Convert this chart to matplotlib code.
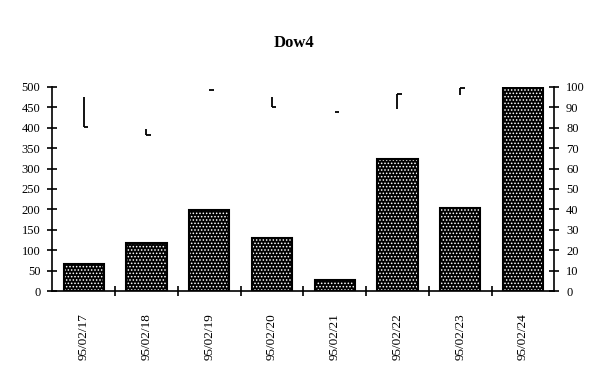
import numpy as np
import matplotlib
matplotlib.use("Agg")
import matplotlib.pyplot as plt

dates = ["95/02/17", "95/02/18", "95/02/19", "95/02/20",
         "95/02/21", "95/02/22", "95/02/23", "95/02/24"]
volume = [66, 118, 199, 130, 27, 324, 203, 500]
high = [95.2, 79.3, 98.3, 95.0, 87.6, 96.6, 99.4, np.nan]
low = [80.2, 76.5, 98.3, 90.3, 87.6, 89.4, 96.1, np.nan]
close = [80.2, 76.5, 98.3, 90.3, 87.6, 96.6, 99.4, np.nan]

plt.rcParams['font.family'] = ['Liberation Serif', 'DejaVu Serif']
plt.rcParams['hatch.linewidth'] = 0.7

fig = plt.figure(figsize=(6.06, 3.73), dpi=100)
ax = fig.add_axes([0.0863, 0.2198, 0.8284, 0.547])
x = np.arange(len(dates))

# volume bars: black with white dot pattern, black outline
ax.bar(x, volume, width=0.64, color='black', edgecolor='white', hatch='.....',
       linewidth=0, zorder=2)
ax.bar(x, volume, width=0.64, fill=False, edgecolor='black', linewidth=1.5, zorder=3)
ax.set_ylim(0, 500)
ax.set_xlim(-0.5, len(dates) - 0.5)
ax.set_yticks(range(0, 501, 50))

ax.set_xticks(x)
ax.set_xticklabels(dates, rotation=90, fontsize=9.5)
ax.set_xticks(np.arange(0.5, len(dates) - 0.5, 1), minor=True)
ax.tick_params(axis='x', which='major', length=0, pad=16)
ax.tick_params(axis='x', which='minor', direction='inout', length=7, width=1.2)
ax.tick_params(axis='y', direction='inout', length=7, width=1.2, labelsize=9, pad=5)
for s in ['left', 'bottom']:
    ax.spines[s].set_linewidth(1.2)
ax.spines['top'].set_visible(False)
ax.spines['right'].set_visible(False)

# high-low-close on right axis
ax2 = ax.twinx()
ax2.set_ylim(0, 100)
ax2.set_yticks(range(0, 101, 10))
ax2.vlines(x, low, high, color='black', linewidth=1.3, zorder=4)
ax2.hlines(close, x, x + 0.07, color='black', linewidth=1.3, zorder=4)
ax2.tick_params(axis='y', direction='inout', length=7, width=1.2, labelsize=9, pad=5)
ax2.spines['right'].set_linewidth(1.2)
ax2.spines['top'].set_visible(False)
ax2.spines['left'].set_visible(False)
ax2.spines['bottom'].set_visible(False)

fig.text(0.485, 0.885, "Dow4", ha='center', va='center', fontsize=12, fontweight='bold')

fig.savefig("out.png", dpi=100)
